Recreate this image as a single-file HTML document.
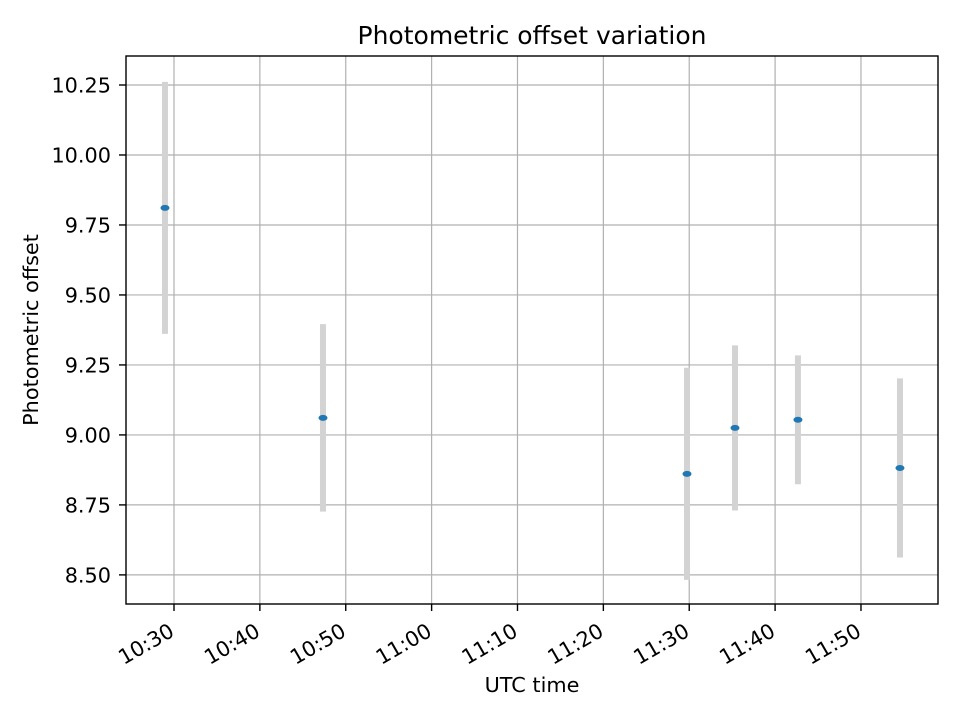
<!DOCTYPE html>
<html><head><meta charset="utf-8"><style>
body{margin:0;background:#fff;}
svg{display:block;font-family:"DejaVu Sans","Liberation Sans",sans-serif;}
</style></head><body>
<svg id="chart" width="960" height="720" xmlns="http://www.w3.org/2000/svg">
<rect width="960" height="720" fill="#fff"/>
<text x="532" y="44" text-anchor="middle" font-size="25">Photometric offset variation</text>
<g id="grid"></g>
<g id="errs"></g>
<g id="pts"></g>
<rect x="126" y="56" width="812" height="548" fill="none" stroke="#000" stroke-width="1.4"/>
<g id="ticks"></g>
<text x="532" y="692" text-anchor="middle" font-size="20.8">UTC time</text>
<text transform="translate(38,330) rotate(-90)" text-anchor="middle" font-size="20.8">Photometric offset</text>
</svg>
<script>
// minutes after 10:00 UTC
const times=[28.95,47.35,89.74,95.33,102.66,114.54];
const offsets=[9.811,9.061,8.861,9.025,9.054,8.882];
const errors=[0.45,0.335,0.379,0.295,0.23,0.32];
const xTickVals=[30,40,50,60,70,80,90,100,110];
const xTickLabels=["10:30","10:40","10:50","11:00","11:10","11:20","11:30","11:40","11:50"];
const yTickVals=[8.5,8.75,9.0,9.25,9.5,9.75,10.0,10.25];
const yTickLabels=["8.50","8.75","9.00","9.25","9.50","9.75","10.00","10.25"];

const L=126,R=938,T=56,B=604;
const xMin=24.41,xMax=118.97,yMin=8.396,yMax=10.3536;
const xs=v=>L+(v-xMin)/(xMax-xMin)*(R-L);
const ys=v=>B-(v-yMin)/(yMax-yMin)*(B-T);
const NS="http://www.w3.org/2000/svg";
function mk(tag,attrs,parent){const e=document.createElementNS(NS,tag);for(const k in attrs)e.setAttribute(k,attrs[k]);document.getElementById(parent).appendChild(e);return e;}
xTickVals.forEach((v,i)=>{
  const x=xs(v);
  const g=mk('line',{x1:x,x2:x,y1:T,y2:B,stroke:'#b0b0b0','stroke-width':1.2},'grid');
  
  
  const t=mk('line',{x1:x,x2:x,y1:B,y2:B+7,stroke:'#000','stroke-width':1.4},'ticks');
  
  
  const l=mk('text',{transform:`translate(${x-6},${B+18}) rotate(-30)`,'text-anchor':'end','font-size':'20.8','dominant-baseline':'hanging'},'ticks');
  l.textContent=xTickLabels[i];
  
  
});
yTickVals.forEach((v,i)=>{
  const y=ys(v);
  const g=mk('line',{x1:L,x2:R,y1:y,y2:y,stroke:'#b0b0b0','stroke-width':1.2},'grid');
  
  
  const t=mk('line',{x1:L-7,x2:L,y1:y,y2:y,stroke:'#000','stroke-width':1.4},'ticks');
  
  
  const l=mk('text',{x:L-15,y:y+7.5,'text-anchor':'end','font-size':'20.8'},'ticks');
  l.textContent=yTickLabels[i];
  
  
});
times.forEach((t,i)=>{
  const x=xs(t);
  const e=mk('line',{x1:x,x2:x,y1:ys(offsets[i]+errors[i]),y2:ys(offsets[i]-errors[i]),stroke:'#d3d3d3','stroke-width':6},'errs');
  
  
  const p=mk('ellipse',{cx:x,cy:ys(offsets[i]),rx:4.5,ry:3,fill:'#1f77b4'},'pts');
  
  
});
</script>
</body></html>
